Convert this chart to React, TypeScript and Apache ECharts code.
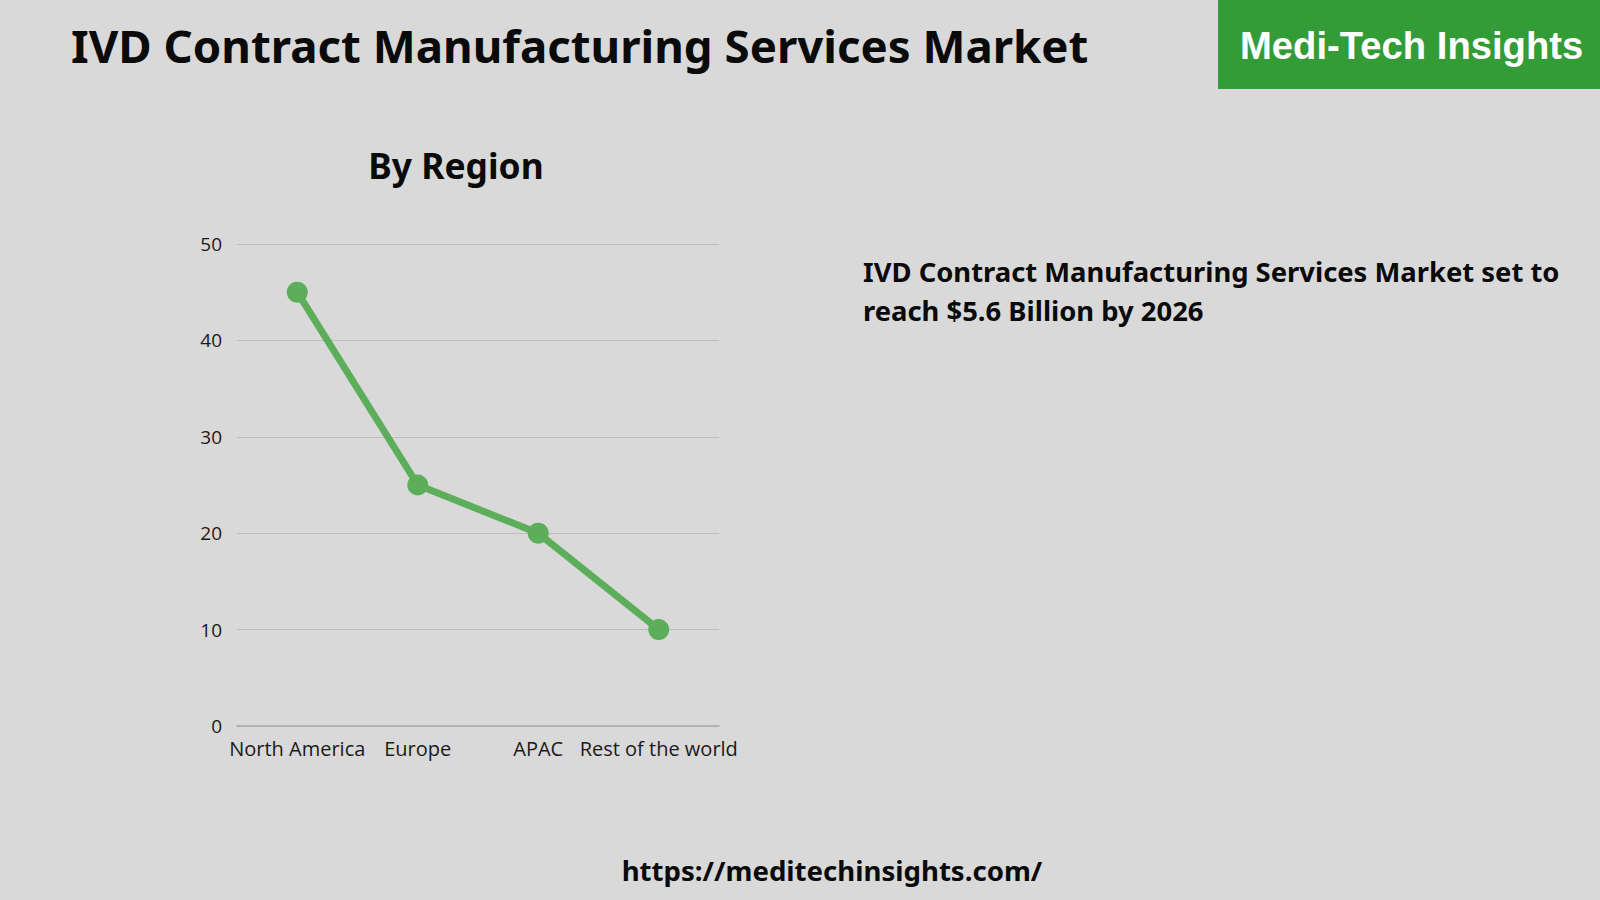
import React, { useEffect, useRef } from "react";
import * as echarts from "echarts";

const regions = ["North America", "Europe", "APAC", "Rest of the world"];
const shares = [45, 25, 20, 10];
const yTicks = { min: 0, max: 50, interval: 10 };

const titleText = "IVD Contract Manufacturing Services Market";
const subtitleText = "By Region";
const brandText = "Medi-Tech Insights";
const noteLines = [
  "IVD Contract Manufacturing Services Market set to",
  "reach $5.6 Billion by 2026",
];
const footerText = "https://meditechinsights.com/";

export default function App() {
  const ref = useRef<HTMLDivElement>(null);
  useEffect(() => {
    document.body.style.margin = "0";
    const chart = echarts.init(ref.current!, null, { renderer: "svg" });
    chart.setOption({
      animation: false,
      backgroundColor: "#d9d9d9",
      grid: { left: 237, right: 881, top: 244, bottom: 174, containLabel: false },
      xAxis: {
        type: "category",
        data: regions,
        boundaryGap: true,
        axisLine: { show: true, lineStyle: { color: "#a8a8a8", width: 1.5 } },
        axisTick: { show: false },
        axisLabel: {
          interval: 0,
          margin: 12,
          color: "#1a1a1a",
          fontSize: 20,
          fontFamily: "Open Sans",
        },
      },
      yAxis: {
        type: "value",
        min: yTicks.min,
        max: yTicks.max,
        interval: yTicks.interval,
        axisLine: { show: false },
        axisTick: { show: false },
        splitLine: { lineStyle: { color: "#bdbdbd", width: 1 } },
        axisLabel: {
          margin: 15,
          color: "#1a1a1a",
          fontSize: 19,
          fontFamily: "Open Sans",
        },
      },
      series: [
        {
          type: "line",
          data: shares,
          symbol: "circle",
          symbolSize: 21,
          lineStyle: { color: "#5cae5a", width: 7 },
          itemStyle: { color: "#5cae5a" },
        },
      ],
      graphic: [
        {
          type: "text",
          left: 71,
          top: 22,
          style: {
            text: titleText,
            font: "bold 45.6px 'Noto Sans'",
            fill: "#0a0a0a",
          },
        },
        {
          type: "rect",
          shape: { x: 1218, y: 0, width: 382, height: 89 },
          style: { fill: "#349c37" },
        },
        {
          type: "text",
          x: 1240,
          y: 45,
          scaleX: 0.98,
          style: {
            text: brandText,
            font: "bold 39px 'Liberation Sans'",
            fill: "#ffffff",
            textVerticalAlign: "middle",
          },
        },
        {
          type: "text",
          x: 456,
          y: 165,
          style: {
            text: subtitleText,
            font: "bold 35.4px 'Noto Sans'",
            fill: "#0a0a0a",
            textAlign: "center",
            textVerticalAlign: "middle",
          },
        },
        {
          type: "text",
          x: 863,
          y: 271,
          style: {
            text: noteLines[0],
            font: "bold 27.4px 'Noto Sans'",
            fill: "#0a0a0a",
            textVerticalAlign: "middle",
          },
        },
        {
          type: "text",
          x: 863,
          y: 310,
          style: {
            text: noteLines[1],
            font: "bold 27.4px 'Noto Sans'",
            fill: "#0a0a0a",
            textVerticalAlign: "middle",
          },
        },
        {
          type: "text",
          x: 832,
          y: 870,
          style: {
            text: footerText,
            font: "bold 27.6px 'Noto Sans'",
            fill: "#0a0a0a",
            textAlign: "center",
            textVerticalAlign: "middle",
          },
        },
      ],
    });
    return () => chart.dispose();
  }, []);
  return (
    <div
      ref={ref}
      style={{ position: "fixed", left: 0, top: 0, width: 1600, height: 900 }}
    />
  );
}
